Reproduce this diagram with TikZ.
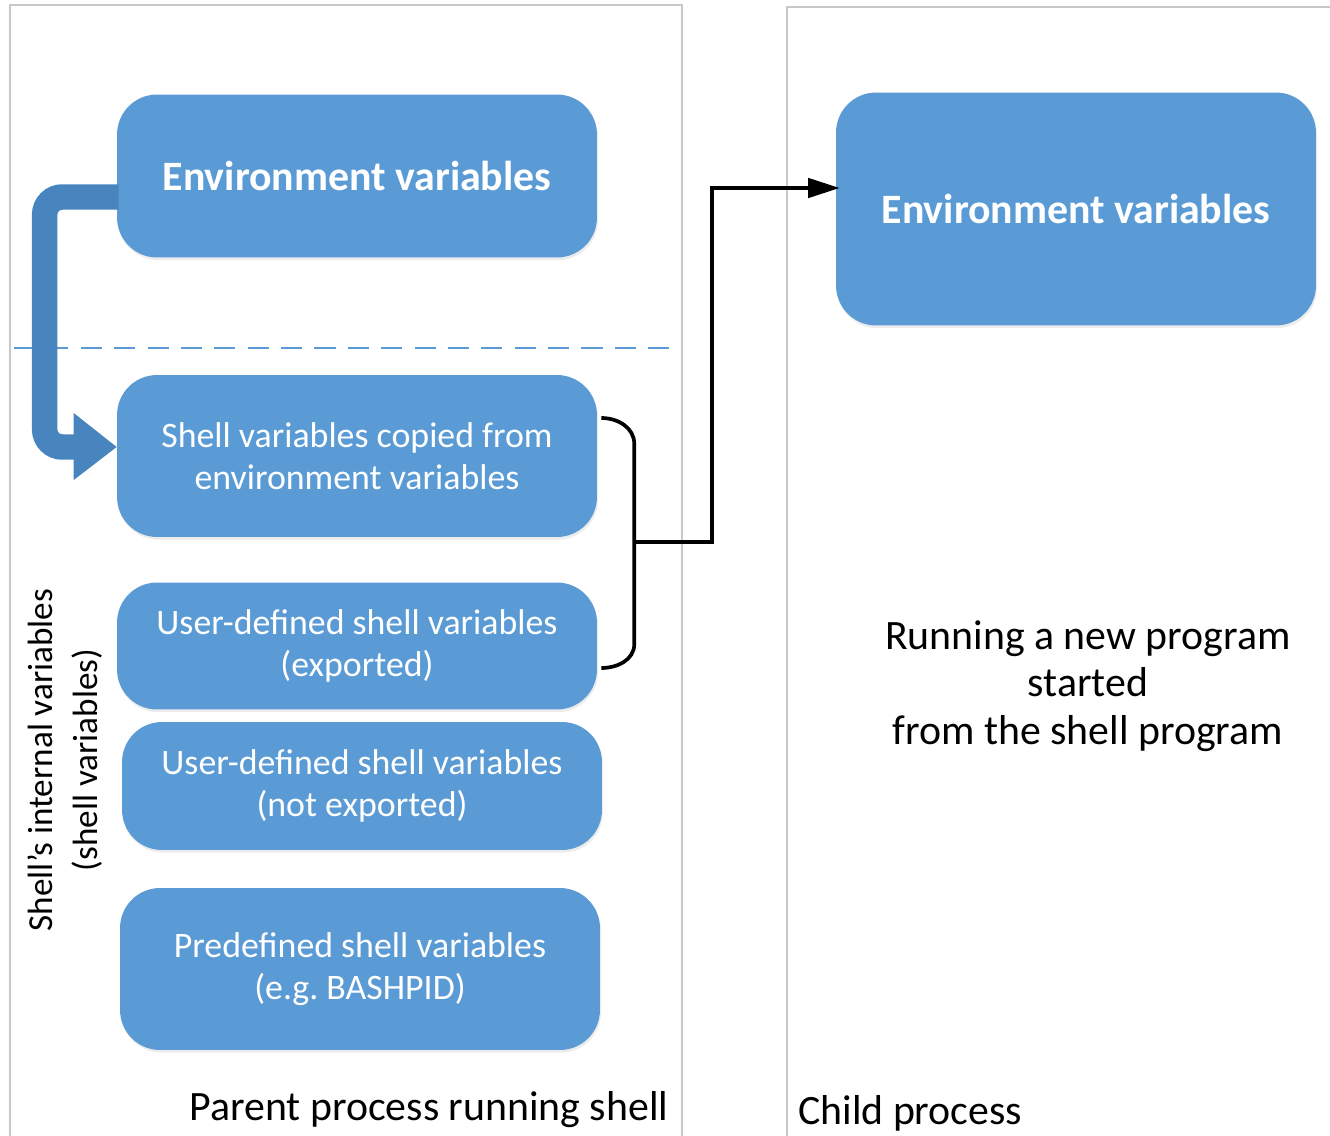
\documentclass[tikz,border=0pt]{standalone}
\usepackage{fontspec}
\setmainfont{Carlito}
\usetikzlibrary{calc,shadows,arrows.meta}
\definecolor{boxblue}{RGB}{91,155,213}
\definecolor{arrowblue}{RGB}{72,132,190}
\definecolor{panelgray}{RGB}{200,200,200}

\begin{document}
\begin{tikzpicture}[x=0.02cm, y=-0.02cm,
	varbox/.style={fill=boxblue, rounded corners=0.8cm, text=white, align=center,
		minimum width=9.6cm, font=\fontsize{20.4}{24}\selectfont,
		drop shadow={opacity=0.15, shadow xshift=0.6pt, shadow yshift=-1.5pt}},
	envbox/.style={varbox, font=\fontsize{23.8}{28}\selectfont\bfseries},
	panel/.style={draw=panelgray, line width=1.6pt},
	label/.style={font=\fontsize{23.8}{27}\selectfont, align=center}]
		%%%%% START %%%%%
		\useasboundingbox (0,0) rectangle (1330,1136);
		
		% process frames
		\draw[panel] (10,1136) -- (10,5) -- (682,5) -- (682,1136);
		\draw[panel] (787,1136) -- (787,7) -- (1330,7);
		\draw[boxblue, line width=1.1pt, dash pattern=on 12pt off 7pt] (14,348) -- (680,348);
		
		% parent process
		\node[envbox, minimum height=3.26cm] (penv) at (357,176) {Environment variables};
		\node[varbox, minimum height=3.24cm] (shcopy) at (357,456) {Shell variables copied from\\environment variables};
		\node[varbox, minimum height=2.54cm] (usrexp) at (357,646) {User-defined shell variables\\(exported)};
		\node[varbox, minimum height=2.56cm] (usrnoexp) at (362,786) {User-defined shell variables\\(not exported)};
		\node[varbox, minimum height=3.24cm] (predef) at (360,969) {Predefined shell variables\\(e.g.\ BASHPID)};
		
		% child process
		\node[envbox, minimum height=4.66cm] (cenv) at (1076,209) {Environment variables};
		
		% copy arrow
		\draw[arrowblue, line width=14.5pt, rounded corners=0.35cm] ($(penv.west)+(2,21)$) -| ($(shcopy.west)+(-72,-9)$) -- ($(shcopy.west)+(-40,-9)$);
		\fill[arrowblue] ($(shcopy.west)+(-43,-43)$) -- ($(shcopy.west)+(0,-9)$) -- ($(shcopy.west)+(-43,24)$) -- cycle;
		
		% exported group
		\draw[line width=2.1pt] ($(shcopy.east)+(4,-38)$) to[out=0,in=90] ($(shcopy.east)+(37,-12)$) -- ($(usrexp.east)+(37,-2)$) to[out=-90,in=0] ($(usrexp.east)+(4,22)$);
		\coordinate (brk) at (633,542);
		\draw[line width=2.1pt, -{Triangle[length=18pt, width=11pt]}] (brk) -- ++(79,0) |- ($(cenv.west)+(4,-21)$);
		
		% labels
		\node[label, rotate=90, font=\fontsize{20}{25.5}\selectfont] (intvars) at (65,760) {Shell’s internal variables\\(shell variables)};
		\node[label] (parent) at (429,1110) {Parent process running shell};
		\node[label, anchor=west] (child) at (792,1113) {Child process};
		\node[label] (running) at (1088,686) {Running a new program\\started\\from the shell program};
		
		%%%%% END %%%%%
\end{tikzpicture}
\end{document}
